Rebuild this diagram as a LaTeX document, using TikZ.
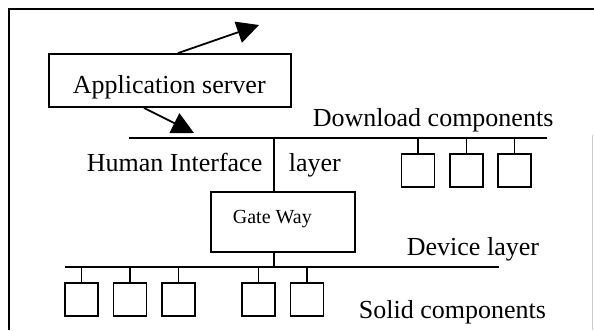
\documentclass[tikz,border=0pt]{standalone}
\usepackage{fontspec}
\setmainfont{Liberation Serif}
\usetikzlibrary{arrows.meta}
\begin{document}
\begin{tikzpicture}[x=1pt,y=-1pt,
  line width=1.8pt,
  bigtext/.style={font=\fontsize{26}{30}\selectfont, inner sep=0pt, anchor=base west},
  smalltext/.style={font=\fontsize{20}{24}\selectfont, inner sep=0pt, anchor=base west},
  unitbox/.style={draw, rectangle, minimum width=33pt, minimum height=33pt, inner sep=0pt},
  bigbox/.style={draw, rectangle, inner sep=0pt},
  flow/.style={-{Triangle[length=22pt,width=22pt]}}
]
\useasboundingbox (0,0) rectangle (594,330);
% frame
\draw (9,330) -- (9,9) -- (594,9);
\draw[gray!40, line width=0.8pt] (592.5,135) -- (592.5,330);

% application server
\node[bigbox, minimum width=242pt, minimum height=53pt] (app) at (170,80.5) {};
\node[bigtext] (apptext) at (72,93) {Application server};
\coordinate (up) at (259,25);
\coordinate (dn) at (194,133);
\draw[flow] ([xshift=8pt]app.north) -- (up);
\draw[flow] ([xshift=-26pt]app.south) -- (dn);

% upper bus
\coordinate (tl) at (129,138);
\coordinate (tr) at (547,138);
\draw (tl) -- (tr);
\node[bigtext] (dl) at (312,126) {Download components};
\node[bigtext] (hi) at (86,171) {Human Interface};
\node[bigtext] (ly) at (288,171) {layer};

% download components
\node[unitbox] (d1) at (418,170.5) {};
\node[unitbox] (d2) at (466.5,170.5) {};
\node[unitbox] (d3) at (514.5,170.5) {};
\foreach \n in {d1,d2,d3} \draw (\n.north) -- (\n.north |- tl);

% gateway
\node[bigbox, minimum width=144pt, minimum height=60pt] (gw) at (283,222) {};
\node[smalltext] (gwtext) at (232,223) {Gate Way};
\coordinate (hj) at (274,138);
\draw (hj) -- (hj |- gw.north);

% lower bus
\coordinate (bl) at (65,267);
\coordinate (br) at (499,267);
\draw (bl) -- (br);
\draw (gw.south -| hj) -- (hj |- bl);
\node[bigtext] (dev) at (406,255) {Device layer};
\node[bigtext] (solid) at (358,318) {Solid components};

% solid components
\node[unitbox] (s1) at (81.5,299.5) {};
\node[unitbox] (s2) at (130,299.5) {};
\node[unitbox] (s3) at (178.5,299.5) {};
\node[unitbox] (s4) at (258.5,299.5) {};
\node[unitbox] (s5) at (307,299.5) {};
\foreach \n in {s1,s2,s3,s4,s5} \draw (\n.north) -- (\n.north |- bl);
\end{tikzpicture}
\end{document}
